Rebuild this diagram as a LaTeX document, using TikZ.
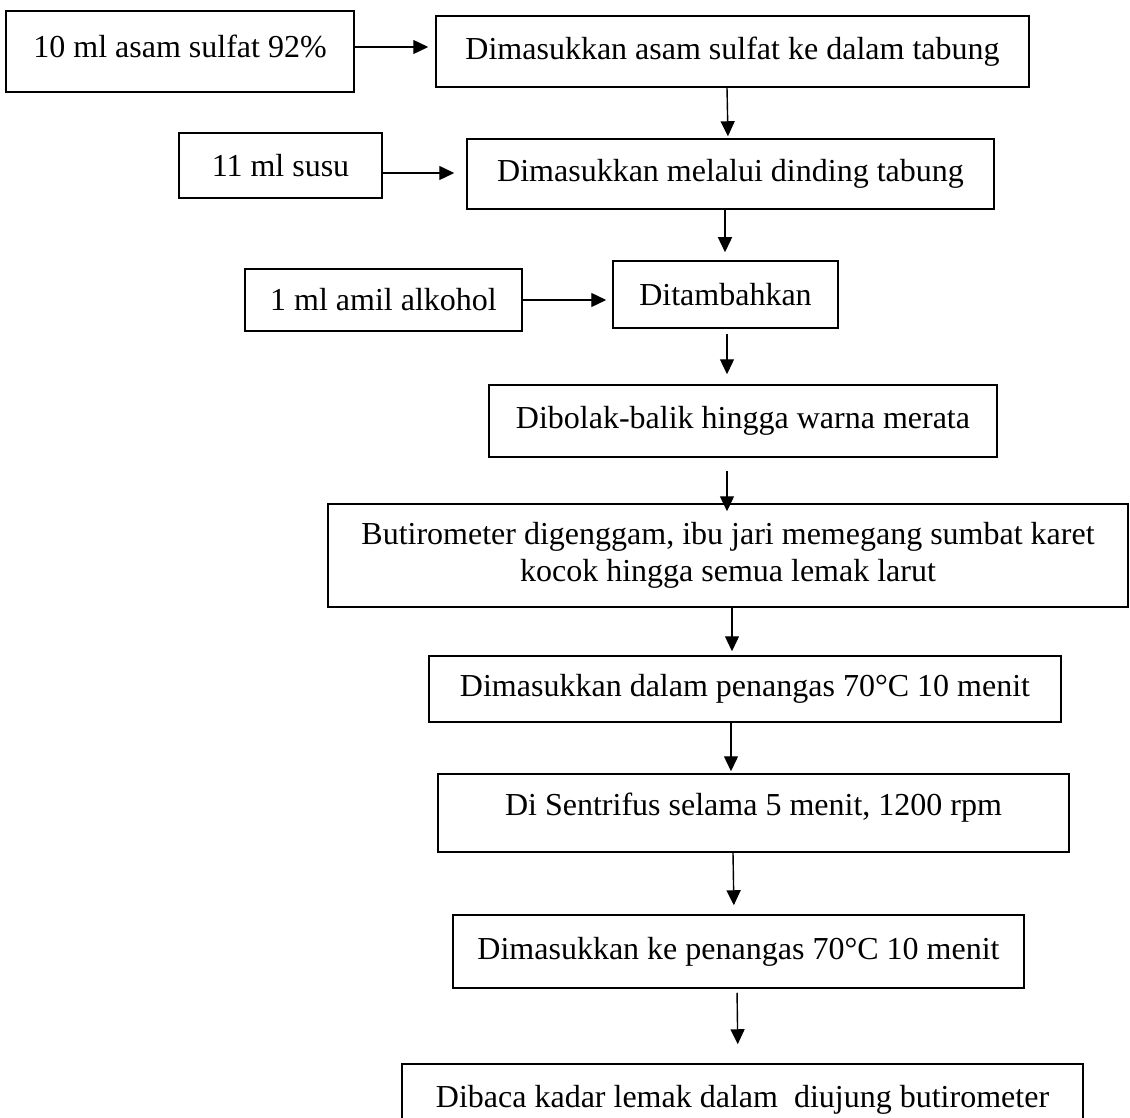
\documentclass[tikz,border=0pt]{standalone}
\usepackage{fontspec}
\setmainfont{Liberation Serif}
\usetikzlibrary{arrows.meta}
\tikzset{
  stepbox/.style={draw=black, line width=1.5pt, inner sep=0pt, align=center},
  flow/.style={line width=1.4pt, -{Triangle[length=15pt,width=14pt]}}
}
\begin{document}
\begin{tikzpicture}[x=1pt,y=-1pt,font=\fontsize{32}{37}\selectfont]
\useasboundingbox (0,0) rectangle (1130,1118);
\clip (0,0) rectangle (1130,1118);
\node[stepbox, minimum width=348pt, minimum height=81pt, text depth=11pt] (acid) at (180,51.5) {10 ml asam sulfat 92\%};
\node[stepbox, minimum width=593pt, minimum height=71pt] (intro) at (732.5,51.5) {Dimasukkan asam sulfat ke dalam tabung};
\node[stepbox, minimum width=203pt, minimum height=65pt] (milk) at (280.5,165.5) {11 ml susu};
\node[stepbox, minimum width=527pt, minimum height=70pt] (wall) at (730.5,174) {Dimasukkan melalui dinding tabung};
\node[stepbox, minimum width=277pt, minimum height=62pt] (alcohol) at (383.5,300) {1 ml amil alkohol};
\node[stepbox, minimum width=225pt, minimum height=67pt] (added) at (725.5,294.5) {Ditambahkan};
\node[stepbox, minimum width=508pt, minimum height=72pt] (invert) at (743,421) {Dibolak-balik hingga warna merata};
\node[stepbox, minimum width=800pt, minimum height=103pt] (shake) at (728,555.5) {Butirometer digenggam, ibu jari memegang sumbat karet\\kocok hingga semua lemak larut};
\node[stepbox, minimum width=632pt, minimum height=66pt] (bath) at (745,689) {Dimasukkan dalam penangas 70°C 10 menit};
\node[stepbox, minimum width=631pt, minimum height=78pt, text depth=18pt] (spin) at (753.5,813) {Di Sentrifus selama 5 menit, 1200 rpm};
\node[stepbox, minimum width=571pt, minimum height=73pt] (rebath) at (738.5,951.5) {Dimasukkan ke penangas 70°C 10 menit};
\node[stepbox, minimum width=681pt, minimum height=71pt] (readout) at (742.5,1099.5) {Dibaca kadar lemak dalam~ diujung butirometer};
\draw[flow, shorten >=7pt] (acid.east |- 0,47) -- (intro.west |- 0,47);
\draw[flow, shorten >=12pt] (milk.east |- 0,173) -- (wall.west |- 0,173);
\draw[flow, shorten >=6pt] (alcohol.east |- 0,300) -- (added.west |- 0,300);
\draw[flow, shorten >=2pt] (intro.south -| 727,0) -- (wall.north -| 728,0);
\draw[flow, shorten >=8pt] (wall.south -| 725,0) -- (added.north -| 725,0);
\draw[flow, shorten <=5pt, shorten >=10pt] (added.south -| 727,0) -- (invert.north -| 727,0);
\draw[flow, shorten <=13pt, shorten >=-8pt] (invert.south -| 727,0) -- (shake.north -| 727,0);
\draw[flow, shorten >=4pt] (shake.south -| 732,0) -- (bath.north -| 732,0);
\draw[flow, shorten >=2pt] (bath.south -| 731,0) -- (spin.north -| 731,0);
\draw[flow, shorten >=9pt] (spin.south -| 733,0) -- (rebath.north -| 734,0);
\draw[flow, shorten <=4pt, shorten >=19pt] (rebath.south -| 737,0) -- (readout.north -| 738,0);
\end{tikzpicture}
\end{document}
